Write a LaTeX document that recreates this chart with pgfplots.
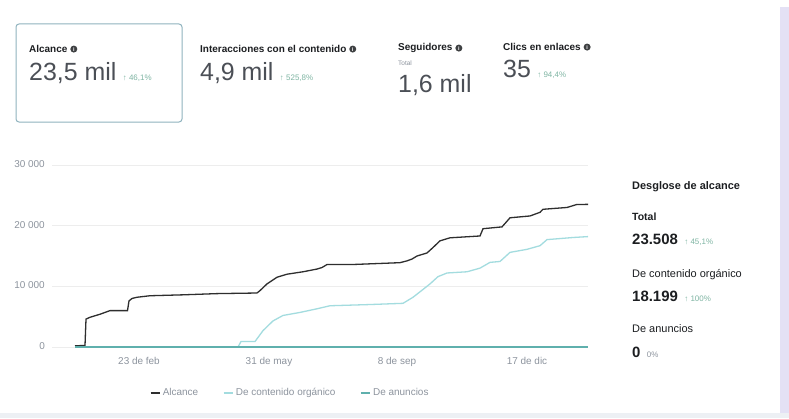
\documentclass[border=0pt]{standalone}
\usepackage{pgfplots}
\pgfplotsset{compat=1.18}
\usepackage{fontspec}
\setmainfont{Liberation Sans}
\definecolor{alc}{HTML}{2E2E2E}
\definecolor{org}{HTML}{A3DCDF}
\definecolor{anu}{HTML}{5FB0AD}
\definecolor{txt}{HTML}{1C1E21}
\definecolor{big}{HTML}{4B4F56}
\definecolor{lbl}{HTML}{8D949E}
\definecolor{pct}{HTML}{7FB5A3}
\definecolor{boxb}{HTML}{8FB3BE}
\definecolor{lav}{HTML}{E4E1F5}
\definecolor{bot}{HTML}{EDF0F4}
\definecolor{gridc}{HTML}{EDEDED}
\newcommand\fs[1]{\fontsize{#1}{#1}\selectfont}
\begin{document}
\begin{tikzpicture}[x=1bp,y=1bp]
\useasboundingbox (0,0) rectangle (789,418);
\fill[white] (0,0) rectangle (789,418);
\fill[lav] (780,0) rectangle (789,411);
\fill[bot] (0,0) rectangle (789,5);
\draw[boxb, line width=1bp, rounded corners=3bp, fill=white] (16,296) rectangle (182,394);
\tikzset{ttl/.style={anchor=mid west, inner sep=0pt, text=txt, font=\bfseries\fs{10}},
  info/.style={circle, fill=txt!85, inner sep=0pt, minimum size=7bp, text=white, font=\bfseries\fs{5.5}, anchor=west, xshift=2.5bp},
  bignum/.style={anchor=mid west, inner sep=0pt, text=big, font=\fs{25}},
  pc/.style={anchor=base west, inner sep=0pt, xshift=6bp, text=pct, font=\fs{8}}}
% KPI cards
\node[ttl] (t1) at (29,368) {Alcance}; \node[info] at (t1.east) {i};
\node[bignum] (n1) at (29,340) {23,5 mil}; \node[pc] at (n1.base east) {↑ 46,1\%};
\node[ttl] (t2) at (200,368) {Interacciones con el contenido}; \node[info] at (t2.east) {i};
\node[bignum] (n2) at (200,340) {4,9 mil}; \node[pc] at (n2.base east) {↑ 525,8\%};
\node[ttl] (t3) at (398,370) {Seguidores}; \node[info] at (t3.east) {i};
\node[anchor=mid west, inner sep=0pt, text=lbl, font=\fs{6.5}] at (398,355) {Total};
\node[bignum] at (398,328) {1,6 mil};
\node[ttl] (t4) at (503,370) {Clics en enlaces}; \node[info] at (t4.east) {i};
\node[bignum] (n4) at (503,343) {35}; \node[pc] at (n4.base east) {↑ 94,4\%};
% right panel
\node[anchor=mid west, inner sep=0pt, text=txt, font=\bfseries\fs{11}] at (632,231) {Desglose de alcance};
\node[anchor=mid west, inner sep=0pt, text=txt, font=\bfseries\fs{10.5}] at (632,200) {Total};
\node[anchor=mid west, inner sep=0pt, text=txt, font=\bfseries\fs{15}] (r1) at (632,176) {23.508};
\node[pc] at (r1.base east) {↑ 45,1\%};
\node[anchor=mid west, inner sep=0pt, text=txt, font=\fs{11}] at (632,143) {De contenido orgánico};
\node[anchor=mid west, inner sep=0pt, text=txt, font=\bfseries\fs{15}] (r2) at (632,119) {18.199};
\node[pc] at (r2.base east) {↑ 100\%};
\node[anchor=mid west, inner sep=0pt, text=txt, font=\fs{11}] at (632,88) {De anuncios};
\node[anchor=mid west, inner sep=0pt, text=txt, font=\bfseries\fs{15}] (r3) at (632,63) {0};
\node[pc, text=lbl] at (r3.base east) {0\%};
\begin{axis}[at={(52bp,71bp)}, anchor=south west, scale only axis,
  width=536bp, height=182bp, xmin=52, xmax=588, ymin=0, ymax=30000,
  axis line style={draw=none}, major tick length=0pt, scaled y ticks=false,
  ytick={0,10000,20000,30000}, yticklabels={0,10 000,20 000,30 000},
  xtick={139,269,397,527}, xticklabels={23 de feb,31 de may,8 de sep,17 de dic},
  ymajorgrids, grid style={gridc, line width=0.8bp},
  tick label style={font=\fs{10}, text=lbl},
  yticklabel style={anchor=mid east, inner sep=0pt, xshift=-7bp},
  xticklabel style={anchor=mid, inner sep=0pt, yshift=-15bp},
  clip=false,
  legend style={at={(0.181,-0.2527)}, anchor=west, draw=none, fill=none, inner sep=0pt,
    font=\fs{10}, text=lbl, /tikz/every even column/.append style={column sep=22bp}},
  legend columns=3, legend cell align=left,
  legend image code/.code={\draw[line width=2.6bp] (0bp,0bp) -- (9bp,0bp);}]
\addplot[alc, line width=1.3bp] coordinates {
(75,200)(85,250)(86,4600)(90,4900)(100,5400)(110,6000)(127.5,6000)(129,7600)(132,8000)(137,8200)
(150,8450)(183,8600)(217,8800)(257,8900)(260,9300)(267,10400)(277,11500)(287,12000)(303,12400)
(317,12850)(322,13100)(327,13600)(353,13600)(400,13900)(407,14200)(412,14500)(417,15000)(427,15500)
(433,16400)(440,17500)(450,18000)(480,18300)(483,19500)(502,19800)(510,21300)(530,21600)(540,22200)
(543,22700)(567,23000)(577,23500)(588,23508)};
\addlegendentry{Alcance}
\addplot[org, line width=1.3bp] coordinates {
(75,0)(238,0)(241,900)(255,900)(263,2700)(273,4300)(283,5200)(300,5700)(317,6300)(330,6800)
(370,7000)(403,7200)(413,8200)(420,9100)(430,10400)(438,11600)(447,12200)(467,12400)(480,13000)
(490,13950)(500,14100)(510,15600)(527,16100)(540,16700)(547,17700)(573,18050)(588,18199)};
\addlegendentry{De contenido orgánico}
\addplot[anu, line width=1.3bp] coordinates {(75,0)(238,0)(588,0)};
\addlegendentry{De anuncios}
\end{axis}
\end{tikzpicture}
\end{document}
